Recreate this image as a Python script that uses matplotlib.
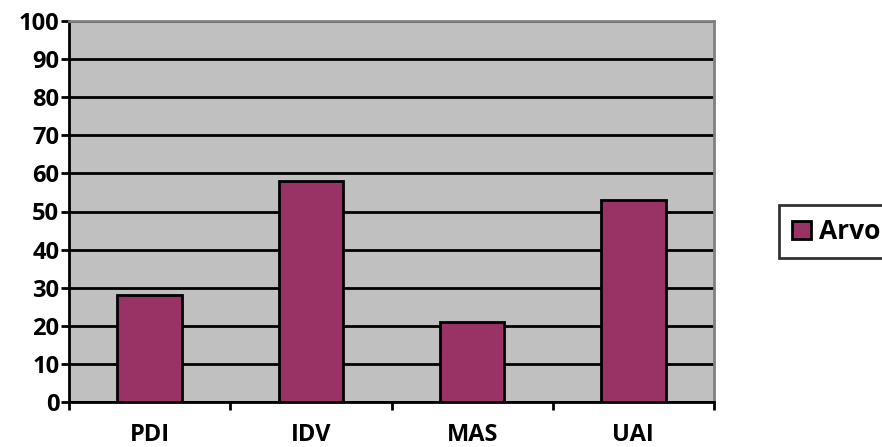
import matplotlib.pyplot as plt
import numpy as np

categories = ['PDI', 'IDV', 'MAS', 'UAI']
arvo = [28, 58, 21, 53]
series_name = 'Arvo'
y_ticks = list(range(0, 101, 10))

plt.rcParams['font.family'] = ['Open Sans', 'DejaVu Sans']
plt.rcParams['font.weight'] = 'bold'

fig = plt.figure(figsize=(8.82, 4.47), dpi=100)
ax = fig.add_axes([69 / 882, 1 - 402 / 447, (714 - 69) / 882, (402 - 21) / 447])
ax.set_facecolor('#C0C0C0')

x = np.arange(len(categories))
ax.bar(x, arvo, width=0.4, color='#993366', edgecolor='black', linewidth=2,
       label=series_name, zorder=3)

ax.set_xlim(-0.5, len(categories) - 0.5)
ax.set_ylim(0, 100)
ax.set_yticks(y_ticks)
ax.set_yticklabels([str(v) for v in y_ticks], fontsize=17, fontweight='bold')
ax.yaxis.grid(True, color='black', linewidth=2, zorder=1)
ax.set_axisbelow(True)

# category labels sit between the boundary ticks
ax.set_xticks(np.arange(-0.5, len(categories), 1))
ax.set_xticklabels([])
ax.set_xticks(x, minor=True)
ax.set_xticklabels(categories, minor=True, fontsize=17, fontweight='bold')
ax.tick_params(axis='x', which='minor', length=0, pad=15)
ax.tick_params(axis='x', which='major', length=6, width=2, direction='out')
ax.tick_params(axis='y', length=6, width=2, direction='out', pad=1)

for side in ['left', 'bottom']:
    ax.spines[side].set_linewidth(2)
    ax.spines[side].set_color('black')
for side in ['top', 'right']:
    ax.spines[side].set_linewidth(2)
    ax.spines[side].set_color('#808080')

leg = fig.legend(loc='upper left', bbox_to_anchor=(779 / 882, 1 - 205 / 447),
                 fontsize=19, frameon=True, fancybox=False, handlelength=0.7,
                 handleheight=0.7, handletextpad=0.3, borderpad=0.5,
                 borderaxespad=0)
leg.get_frame().set_edgecolor('black')
leg.get_frame().set_linewidth(2)
for t in leg.get_texts():
    t.set_fontweight('bold')

fig.savefig('out.png', dpi=100)
